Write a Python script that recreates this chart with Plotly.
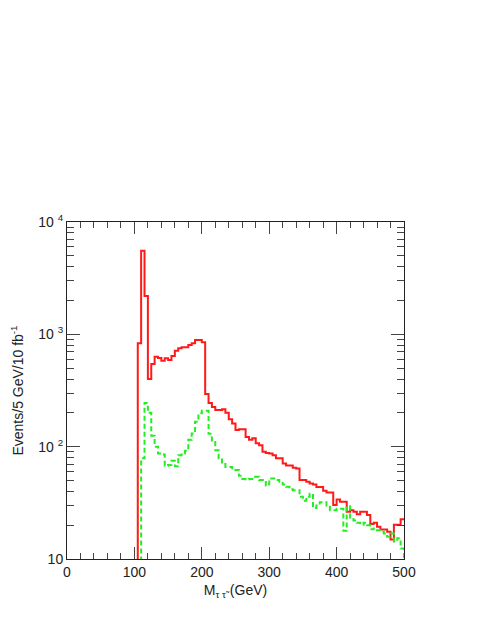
import plotly.graph_objects as go

# bin edges, 5 GeV wide
edges_red = [0, 105] + list(range(110, 501, 5))
edges_green = [0, 110] + list(range(115, 501, 5))

# signal + background (solid red), per bin 105..500
red = [832, 5550, 2190, 400, 545, 632, 617, 582, 611, 590,
       641, 714, 750, 766, 766, 803, 832, 889, 889, 850,
       294, 245, 226, 212, 212, 215, 200, 175, 161, 141,
       143, 143, 122, 115, 119, 107, 103, 90, 88, 87,
       84, 79, 79, 71, 68, 68, 65, 64, 50.5, 50.5,
       48.6, 47, 46, 43.8, 43.8, 40.5, 39, 39, 30.2, 33.9,
       32.3, 32.3, 26.3, 27.2, 26.3, 25, 26.3, 26.3, 24.6, 20.5,
       21, 19.4, 18.3, 18.3, 17.5, 14.9, 20.2, 20.2, 22.6]

# background only (dashed green), per bin 110..500
green = [79, 245, 200, 125, 100, 87, 85, 67.6, 68.5, 75,
         67, 84, 87, 92, 115, 131, 167, 198, 209, 209,
         130, 110, 93, 79, 70, 66, 66, 62, 62, 55,
         51.5, 51, 51.5, 54, 54, 50.5, 50.5, 45, 52, 52,
         50.5, 48.6, 46, 44, 41.7, 41, 41, 35.8, 33, 35.8,
         38, 28.5, 30, 32, 32, 30, 27.2, 27.2, 28, 28,
         17.8, 29.5, 22.7, 22, 21, 20.2, 21, 20, 18.4, 18.7,
         18, 17.5, 16.9, 15.8, 16.9, 14.3, 15.3, 12.4]

y_ticks = [10, 100, 1000, 10000]
y_text = ["10", "10&#160;<sup>2</sup>", "10&#160;<sup>3</sup>", "10&#160;<sup>4</sup>"]

# step curves: value below the axis before the first bin
ry = [1] + red + [red[-1]]
gy = [1] + green + [1]

fig = go.Figure()
fig.add_trace(go.Scatter(x=edges_red, y=ry, mode="lines", line_shape="hv",
                         line=dict(color="#ff1a1a", width=2)))
fig.add_trace(go.Scatter(x=edges_green, y=gy, mode="lines", line_shape="hv",
                         line=dict(color="#22ee22", width=2, dash="5px,3px")))

axis_font = dict(family="Liberation Sans, Arial, sans-serif", size=14, color="#222")
# page body adds 8px, so margins are shifted to compensate
fig.update_layout(
    width=485, height=627,
    margin=dict(l=59, r=89, t=214, b=76),
    paper_bgcolor="white", plot_bgcolor="white",
    showlegend=False,
    font=axis_font,
)
fig.update_xaxes(
    range=[0, 500], dtick=100, tick0=0,
    ticks="inside", ticklen=12, tickcolor="#444", tickwidth=1,
    minor=dict(ticks="inside", ticklen=6, dtick=20, tickcolor="#444", showgrid=False),
    showline=True, linecolor="#222", linewidth=1, mirror="allticks",
    showgrid=False, zeroline=False, automargin=False,
    title=dict(text="M<sub>τ τ̃</sub> (GeV)", standoff=6, font=axis_font),
    tickfont=axis_font,
)
fig.update_yaxes(
    type="log", range=[1, 4],
    tickmode="array", tickvals=y_ticks, ticktext=y_text,
    ticks="inside", ticklen=13, tickcolor="#444", tickwidth=1,
    minor=dict(ticks="inside", ticklen=7, dtick="D1", tickcolor="#444", showgrid=False),
    showline=True, linecolor="#222", linewidth=1, mirror="allticks",
    showgrid=False, zeroline=False, automargin=False,
    title=dict(text="Events/5 GeV/10 fb<sup>-1</sup>", standoff=12, font=axis_font),
    tickfont=axis_font,
)

fig.write_html("out.html")
